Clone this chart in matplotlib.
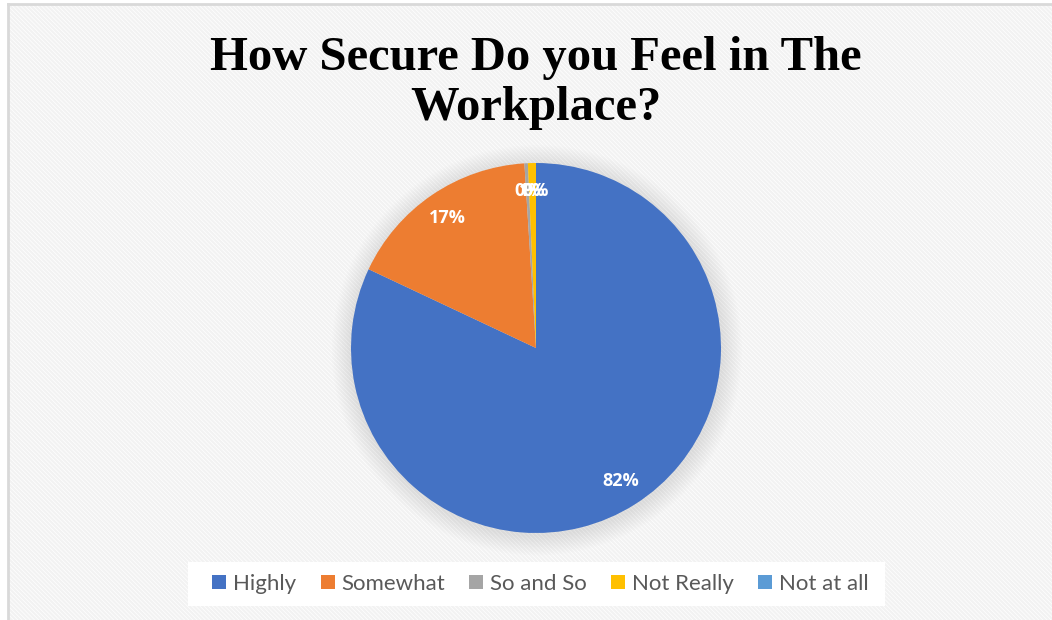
import matplotlib
matplotlib.use("Agg")
import matplotlib.pyplot as plt
from matplotlib.patches import Rectangle, Circle, Patch

categories = ["Highly", "Somewhat", "So and So", "Not Really", "Not at all"]
shares = [82.0, 17.0, 0.3, 0.7, 0.0]
colors = ["#4472C4", "#ED7D31", "#A5A5A5", "#FFC000", "#5B9BD5"]
title_lines = ["How Secure Do you Feel in The", "Workplace?"]

W, H = 1052, 620
DPI = 100
fig = plt.figure(figsize=(W / DPI, H / DPI), dpi=DPI)
fig.patch.set_facecolor("white")

# hatched chart-area background
plt.rcParams["hatch.linewidth"] = 1.6
plt.rcParams["hatch.color"] = "#f2f2f2"
bg = Rectangle((8 / W, 0), 1 - 8 / W, 1 - 4 / H, transform=fig.transFigure,
               facecolor="white", edgecolor="#f2f2f2", hatch="\\" * 8,
               linewidth=0, zorder=-10)
fig.add_artist(bg)
# border on top and left
fig.add_artist(plt.Line2D([8 / W, 1], [1 - 4 / H, 1 - 4 / H], color="#d9d9d9",
                          linewidth=2, transform=fig.transFigure, zorder=-5))
fig.add_artist(plt.Line2D([8 / W, 8 / W], [0, 1 - 4 / H], color="#d9d9d9",
                          linewidth=2, transform=fig.transFigure, zorder=-5))

# pie axes (pixel geometry)
cx, cy, R = 536, H - 348, 185
pad = 40
ax = fig.add_axes([(cx - R - pad) / W, (cy - R - pad) / H,
                   2 * (R + pad) / W, 2 * (R + pad) / H])
ax.set_facecolor("none")
ax.axis("off")
lim = (R + pad) / R

# soft shadow around the pie
for i in range(12):
    r = 1.0 + 0.009 * (12 - i)
    ax.add_patch(Circle((0.005, -0.012), r, facecolor="#a0a0a0",
                        edgecolor="none", alpha=0.02, zorder=1))

wedges, texts, autotexts = ax.pie(
    shares, colors=colors, startangle=90, counterclock=False,
    autopct="%1.0f%%", pctdistance=0.85, radius=1.0,
    wedgeprops=dict(linewidth=0, zorder=2),
    textprops=dict(color="white", fontsize=13, fontweight="bold",
                   family="Open Sans"))
for t in autotexts:
    t.set_zorder(5)
ax.set_xlim(-lim, lim)
ax.set_ylim(-lim, lim)

# two-line title, baselines placed separately
for line, base in zip(title_lines, (70, 120)):
    fig.text(536 / W, 1 - base / H, line, ha="center", va="baseline",
             family="Liberation Serif", fontweight="bold", fontsize=35)

# white legend panel
fig.add_artist(Rectangle((188 / W, 14 / H), (885 - 188) / W, 44 / H,
                         transform=fig.transFigure, facecolor="white",
                         edgecolor="none", zorder=-4))

# legend
handles = [Patch(facecolor=c, edgecolor="none") for c in colors]
leg = fig.legend(handles, categories, loc="center",
                 bbox_to_anchor=(540.5 / W, 36 / H), ncol=5,
                 frameon=False, handlelength=0.63,
                 handleheight=0.63, handletextpad=0.3, columnspacing=1.1,
                 borderpad=0.55, borderaxespad=0,
                 prop=dict(family="Lato", size=16))
for t in leg.get_texts():
    t.set_color("#595959")

fig.savefig("out.png", dpi=DPI)
